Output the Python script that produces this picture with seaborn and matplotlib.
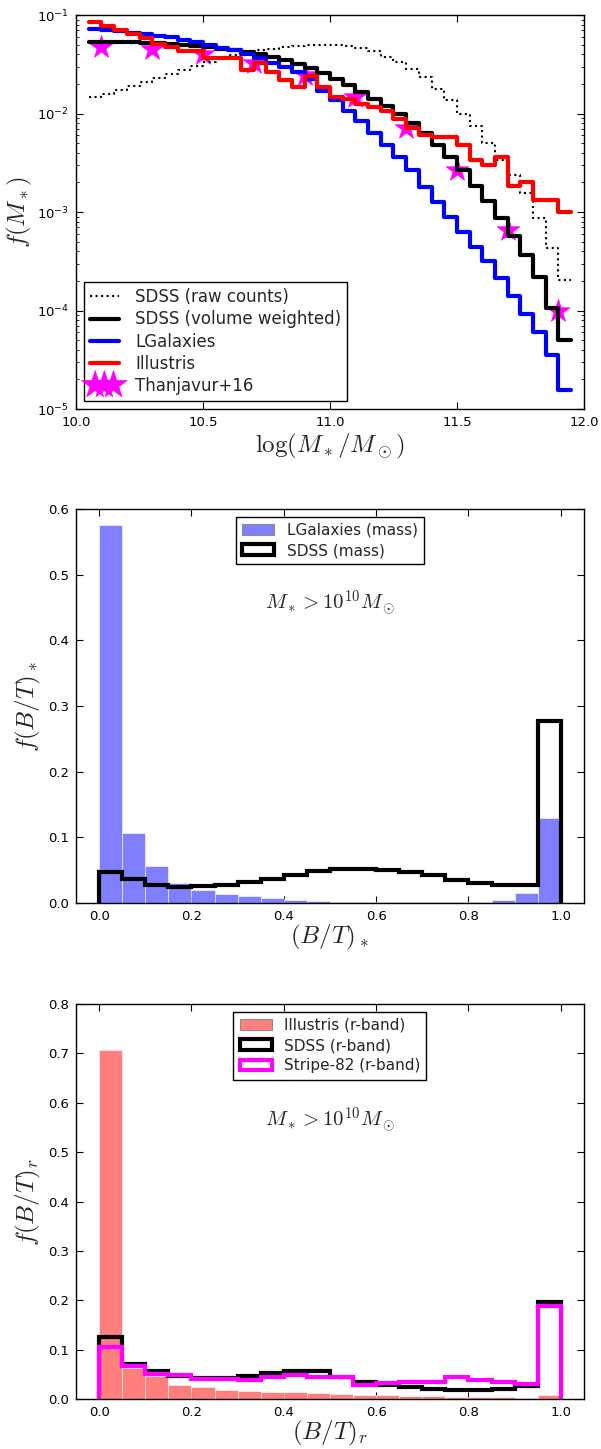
import numpy as np
import matplotlib
matplotlib.use("Agg")
import matplotlib.pyplot as plt
from matplotlib.patches import Patch
from matplotlib.ticker import MultipleLocator, FormatStrFormatter
import seaborn as sns

# ---------------- stellar mass function, 0.05 dex bins ----------------
mass_edges = [round(v, 2) for v in np.arange(10.05, 11.95 + 1e-9, 0.05)]
mass_centers = [0.5 * (a + b) for a, b in zip(mass_edges[:-1], mass_edges[1:])]

sdss_raw = [0.0148, 0.0158, 0.0174, 0.0191, 0.0209, 0.0229, 0.0251, 0.0275,
            0.0302, 0.0331, 0.0355, 0.0389, 0.0417, 0.0437, 0.0457, 0.0479,
            0.0490, 0.0501, 0.0501, 0.0501, 0.0490, 0.0468, 0.0427, 0.0372,
            0.0331, 0.0282, 0.0234, 0.0178, 0.0138, 0.0100, 0.00741, 0.00501,
            0.00339, 0.00240, 0.00155, 0.000871, 0.000427, 0.000204]
sdss_vol = [0.0537, 0.0537, 0.0537, 0.0537, 0.0525, 0.0525, 0.0513, 0.0501,
            0.0490, 0.0479, 0.0457, 0.0437, 0.0417, 0.0398, 0.0372, 0.0347,
            0.0316, 0.0288, 0.0257, 0.0224, 0.0195, 0.0166, 0.0141, 0.0120,
            0.0100, 0.00794, 0.00631, 0.00479, 0.00363, 0.00269, 0.00186,
            0.00129, 0.000871, 0.000575, 0.000363, 0.000219, 0.000107, 0.0000501]
lgal_smf = [0.0724, 0.0708, 0.0692, 0.0661, 0.0646, 0.0617, 0.0603, 0.0562,
            0.0537, 0.0501, 0.0468, 0.0437, 0.0398, 0.0363, 0.0324, 0.0295,
            0.0263, 0.0224, 0.0170, 0.0138, 0.0107, 0.00832, 0.00631, 0.00479,
            0.00363, 0.00269, 0.00178, 0.00126, 0.000891, 0.000631, 0.000447,
            0.000316, 0.000214, 0.000141, 0.0000933, 0.0000603, 0.0000355, 0.0000155]
illustris_smf = [0.0851, 0.0776, 0.0708, 0.0646, 0.0589, 0.0513, 0.0479, 0.0427,
                 0.0427, 0.0363, 0.0363, 0.0363, 0.0275, 0.0324, 0.0266, 0.0219,
                 0.0186, 0.0240, 0.0186, 0.0148, 0.0141, 0.0126, 0.0117, 0.0105,
                 0.00871, 0.00708, 0.00603, 0.00575, 0.00575, 0.00479, 0.00339,
                 0.00302, 0.00363, 0.00182, 0.00200, 0.00132, 0.00132, 0.00100]
thanjavur_logm = [10.1, 10.3, 10.5, 10.7, 10.9, 11.1, 11.3, 11.5, 11.7, 11.9]
thanjavur_f = [0.0479, 0.0457, 0.0407, 0.0324, 0.0245, 0.0148, 0.0071,
               0.0027, 0.00066, 0.0001]

# ---------------- bulge-to-total distributions, 0.05 bins ----------------
bt_edges = [round(v, 2) for v in np.arange(0.0, 1.0 + 1e-9, 0.05)]
bt_centers = [0.5 * (a + b) for a, b in zip(bt_edges[:-1], bt_edges[1:])]

lgal_bt_mass = [0.575, 0.107, 0.056, 0.030, 0.020, 0.014, 0.010, 0.007, 0.005,
                0.003, 0.002, 0.002, 0.0015, 0.0015, 0.001, 0.001, 0.001,
                0.004, 0.015, 0.130]
sdss_bt_mass = [0.047, 0.0365, 0.028, 0.025, 0.026, 0.028, 0.032, 0.0365,
                0.042, 0.049, 0.052, 0.052, 0.051, 0.047, 0.042, 0.0355,
                0.030, 0.027, 0.027, 0.2775]

illustris_bt_r = [0.707, 0.063, 0.046, 0.029, 0.0235, 0.019, 0.017, 0.015,
                  0.0135, 0.012, 0.010, 0.009, 0.008, 0.007, 0.006, 0.005,
                  0.004, 0.004, 0.003, 0.008]
sdss_bt_r = [0.125, 0.0715, 0.056, 0.046, 0.0425, 0.0425, 0.047, 0.0525,
             0.056, 0.056, 0.045, 0.034, 0.029, 0.0235, 0.021, 0.019, 0.019,
             0.021, 0.0255, 0.196]
stripe82_bt_r = [0.105, 0.066, 0.051, 0.048, 0.0405, 0.0405, 0.039, 0.0445,
                 0.048, 0.0445, 0.0437, 0.029, 0.032, 0.034, 0.034, 0.0445,
                 0.039, 0.034, 0.031, 0.1875]

# ---------------- style ----------------
sns.set_style("ticks")
plt.rcParams.update({
    "font.family": ["DejaVu Sans"],
    "axes.edgecolor": "black",
    "axes.linewidth": 1.0,
    "xtick.color": "black", "ytick.color": "black",
    "xtick.direction": "in", "ytick.direction": "in",
    "xtick.top": True, "ytick.right": True,
    "xtick.major.size": 5, "ytick.major.size": 5,
    "xtick.minor.size": 2.5, "ytick.minor.size": 2.5,
    "xtick.major.width": 0.8, "ytick.major.width": 0.8,
    "xtick.minor.width": 0.6, "ytick.minor.width": 0.6,
    "xtick.labelsize": 9.5, "ytick.labelsize": 9.5,
    "xtick.major.pad": 5, "ytick.major.pad": 5,
})

LABEL_KW = dict(fontsize=18, math_fontfamily="cm")
LEG_KW = dict(frameon=True, fancybox=False, edgecolor="black", framealpha=1.0)

fig = plt.figure(figsize=(6.01, 14.49), dpi=100)

# ---------------- panel 1: stellar mass functions ----------------
ax1 = fig.add_axes([0.1265, 0.7177, 0.845, 0.2719])
ax1.set_yscale("log")
smf_series = [
    (sdss_raw, "black", ":", 1.5, "SDSS (raw counts)"),
    (sdss_vol, "black", "-", 3.0, "SDSS (volume weighted)"),
    (lgal_smf, "blue", "-", 3.0, "LGalaxies"),
    (illustris_smf, "red", "-", 3.0, "Illustris"),
]
for vals, col, ls, lw, lab in smf_series:
    sns.histplot(x=mass_centers, weights=vals, bins=mass_edges, element="step",
                 fill=False, color=col, linestyle=ls, linewidth=lw, label=lab,
                 ax=ax1)
sns.scatterplot(x=thanjavur_logm, y=thanjavur_f, marker="*", s=300,
                color="magenta", edgecolor="magenta", linewidth=0.5,
                label="Thanjavur+16", legend=False, ax=ax1)
ax1.set_xlim(10.0, 12.0)
ax1.set_ylim(1e-5, 1e-1)
ax1.xaxis.set_major_locator(MultipleLocator(0.5))
ax1.xaxis.set_major_formatter(FormatStrFormatter("%.1f"))
ax1.set_xlabel(r"$\log(M_*/M_\odot)$", labelpad=2, **LABEL_KW)
ax1.set_ylabel(r"$f(M_*)$", labelpad=2, **LABEL_KW)
h, l = ax1.get_legend_handles_labels()
ax1.legend(h, l, loc="lower left", fontsize=12, scatterpoints=3,
           scatteryoffsets=[0.5], markerscale=1.2, labelspacing=0.25,
           borderpad=0.35, handlelength=1.7, handletextpad=1.0, **LEG_KW)


def outline(ax, vals, col):
    """Open step outline of a pre-binned histogram, dropping to zero at both ends."""
    ax.stairs(vals, bt_edges, baseline=0, fill=False, color=col, linewidth=3)
    return Patch(facecolor="none", edgecolor=col, linewidth=3)


def finish_bt_axes(ax, ymax):
    ax.set_xlim(-0.05, 1.05)
    ax.set_ylim(0, ymax)
    ax.xaxis.set_major_locator(MultipleLocator(0.2))
    ax.yaxis.set_major_locator(MultipleLocator(0.1))
    ax.xaxis.set_major_formatter(FormatStrFormatter("%.1f"))
    ax.yaxis.set_major_formatter(FormatStrFormatter("%.1f"))


# ---------------- panel 2: B/T by stellar mass ----------------
ax2 = fig.add_axes([0.1265, 0.3768, 0.845, 0.2719])
sns.histplot(x=bt_centers, weights=lgal_bt_mass, bins=bt_edges, element="bars",
             fill=True, color="blue", alpha=0.5, edgecolor="white",
             linewidth=0.4, ax=ax2)
h_sdss = outline(ax2, sdss_bt_mass, "black")
h_lgal = Patch(facecolor=(0, 0, 1, 0.5), edgecolor="0.55", linewidth=0.8)
finish_bt_axes(ax2, 0.6)
ax2.set_xlabel(r"$(B/T)_*$", labelpad=0, **LABEL_KW)
ax2.set_ylabel(r"$f(B/T)_*$", labelpad=4, **LABEL_KW)
ax2.legend([h_lgal, h_sdss], ["LGalaxies (mass)", "SDSS (mass)"],
           loc="upper center", fontsize=11, labelspacing=0.35, borderpad=0.4,
           handlelength=2.1, handletextpad=0.8, **LEG_KW)
ax2.text(0.5, 0.76, r"$M_* > 10^{10} M_\odot$", transform=ax2.transAxes,
         ha="center", va="center", fontsize=15, math_fontfamily="cm")

# ---------------- panel 3: B/T in the r band ----------------
ax3 = fig.add_axes([0.1265, 0.0345, 0.845, 0.2726])
sns.histplot(x=bt_centers, weights=illustris_bt_r, bins=bt_edges, element="bars",
             fill=True, color="red", alpha=0.5, edgecolor="white",
             linewidth=0.4, ax=ax3)
h_ill = Patch(facecolor=(1, 0, 0, 0.5), edgecolor="0.55", linewidth=0.8)
h_sdss_r = outline(ax3, sdss_bt_r, "black")
h_s82 = outline(ax3, stripe82_bt_r, "magenta")
finish_bt_axes(ax3, 0.8)
ax3.set_xlabel(r"$(B/T)_r$", labelpad=0, **LABEL_KW)
ax3.set_ylabel(r"$f(B/T)_r$", labelpad=4, **LABEL_KW)
ax3.legend([h_ill, h_sdss_r, h_s82],
           ["Illustris (r-band)", "SDSS (r-band)", "Stripe-82 (r-band)"],
           loc="upper center", fontsize=11, labelspacing=0.35, borderpad=0.4,
           handlelength=2.1, handletextpad=0.8, **LEG_KW)
ax3.text(0.5, 0.706, r"$M_* > 10^{10} M_\odot$", transform=ax3.transAxes,
         ha="center", va="center", fontsize=15, math_fontfamily="cm")

for ax in (ax1, ax2, ax3):
    ax.tick_params(which="both", top=True, right=True, direction="in")
    for s in ax.spines.values():
        s.set_visible(True)

fig.savefig("out.png", dpi=100)
